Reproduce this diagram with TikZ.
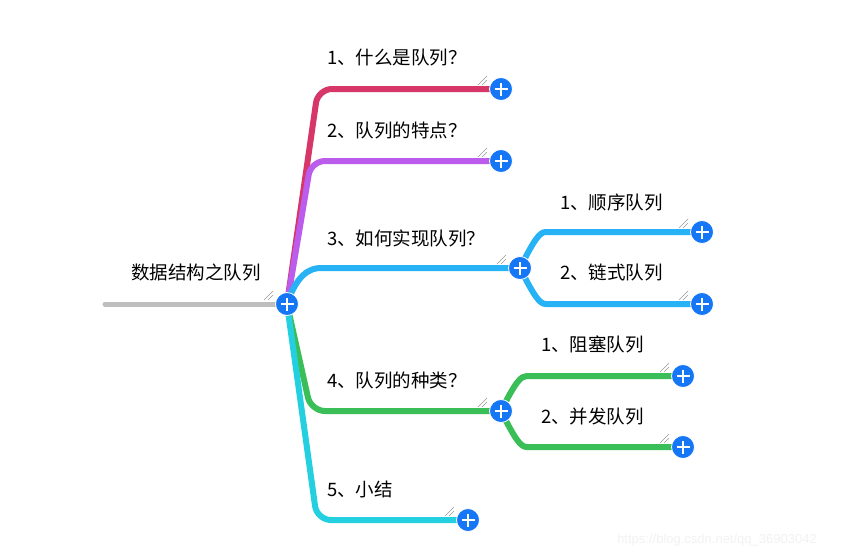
\documentclass[tikz,border=0pt]{standalone}
\usepackage{fontspec}
\setmainfont{Noto Sans CJK SC}
\newfontfamily\wmfont{Liberation Sans}
\usetikzlibrary{positioning, calc, backgrounds}
\definecolor{cred}{RGB}{214,54,104}
\definecolor{cpur}{RGB}{188,92,236}
\definecolor{cblue}{RGB}{38,178,245}
\definecolor{cgreen}{RGB}{58,190,88}
\definecolor{ccyan}{RGB}{36,208,224}
\definecolor{cgray}{RGB}{190,190,190}
\definecolor{plusblue}{RGB}{22,119,246}

\begin{document}
\begin{tikzpicture}[x=1pt,y=-1pt,
  pl/.style={circle,fill=plusblue,draw=white,line width=0.8pt,minimum size=23pt,inner sep=0pt,
    path picture={\draw[white,line width=2.8pt] ([xshift=-6.5pt]path picture bounding box.center) -- ([xshift=6.5pt]path picture bounding box.center);
      \draw[white,line width=2.8pt] ([yshift=-6.5pt]path picture bounding box.center) -- ([yshift=6.5pt]path picture bounding box.center);}},
  lb/.style={anchor=west,inner sep=0pt,font=\fontsize{18.5}{20}\selectfont},
  br/.style={line width=6pt,line cap=round,rounded corners=14pt},
  hd/.style={gray!80,line width=0.5pt}]
  \useasboundingbox (0,0) rectangle (849,558);
  % plus buttons
  \node[pl](root) at (287,304){};
  \node[pl](p1) at (501,89){};
  \node[pl](p2) at (501,161){};
  \node[pl](p3) at (520,268){};
  \node[pl](p4) at (501,411){};
  \node[pl](p5) at (468,520){};
  \node[pl](q1) at (702,232){};
  \node[pl](q2) at (702,304){};
  \node[pl](r1) at (683,376){};
  \node[pl](r2) at (683,447){};
  \coordinate (r0) at (105,304);
  % labels
  \node[lb,anchor=center](rt) at (196,272){数据结构之队列};
  \node[lb](l1) at (327,58){1、什么是队列？};
  \node[lb](l2) at (327,130){2、队列的特点？};
  \node[lb](l3) at (327,238){3、如何实现队列？};
  \node[lb](l4) at (327,380){4、队列的种类？};
  \node[lb](l5) at (327,489){5、小结};
  \node[lb](m1) at (560,202){1、顺序队列};
  \node[lb](m2) at (560,272){2、链式队列};
  \node[lb](n1) at (541,344){1、阻塞队列};
  \node[lb](n2) at (541,416){2、并发队列};
  \node[font=\wmfont\fontsize{13}{15}\selectfont,text=gray!10](wm) at (717,540){https://blog.csdn.net/qq\_36903042};
  % handles
  \foreach \p in {root,p1,p2,p3,p4,p5,q1,q2,r1,r2}{
    \draw[hd]($(\p.center)+(-23,-4)$)--++(9,-9);
    \draw[hd]($(\p.center)+(-19,-4)$)--++(5,-5);}
  \begin{scope}[on background layer]
    \fill[white](0,0) rectangle (849,558);
    \draw[line width=5pt,cgray,line cap=round](r0)--(root.center);
    \draw[br,cred](root.center)--($(root.center|-p1.center)+(31,0)$)--(p1.center);
    \draw[br,cpur](root.center)--($(root.center|-p2.center)+(24,0)$)--(p2.center);
    \draw[br,cblue](root.center) .. controls +(10,-30) and +(-25,0) .. ($(root.center|-p3.center)+(48,0)$)--(p3.center);
    \draw[br,cgreen](root.center)--($(root.center|-p4.center)+(24,0)$)--(p4.center);
    \draw[br,ccyan](root.center)--($(root.center|-p5.center)+(30,0)$)--(p5.center);
    \draw[br,cblue](p3.center) .. controls +(15,-30) and +(-20,0) .. ($(p3.center|-q1.center)+(40,0)$)--(q1.center);
    \draw[br,cblue](p3.center) .. controls +(15,30) and +(-20,0) .. ($(p3.center|-q2.center)+(40,0)$)--(q2.center);
    \draw[br,cgreen](p4.center) .. controls +(15,-30) and +(-20,0) .. ($(p4.center|-r1.center)+(40,0)$)--(r1.center);
    \draw[br,cgreen](p4.center) .. controls +(15,30) and +(-20,0) .. ($(p4.center|-r2.center)+(40,0)$)--(r2.center);
  \end{scope}
\end{tikzpicture}
\end{document}
